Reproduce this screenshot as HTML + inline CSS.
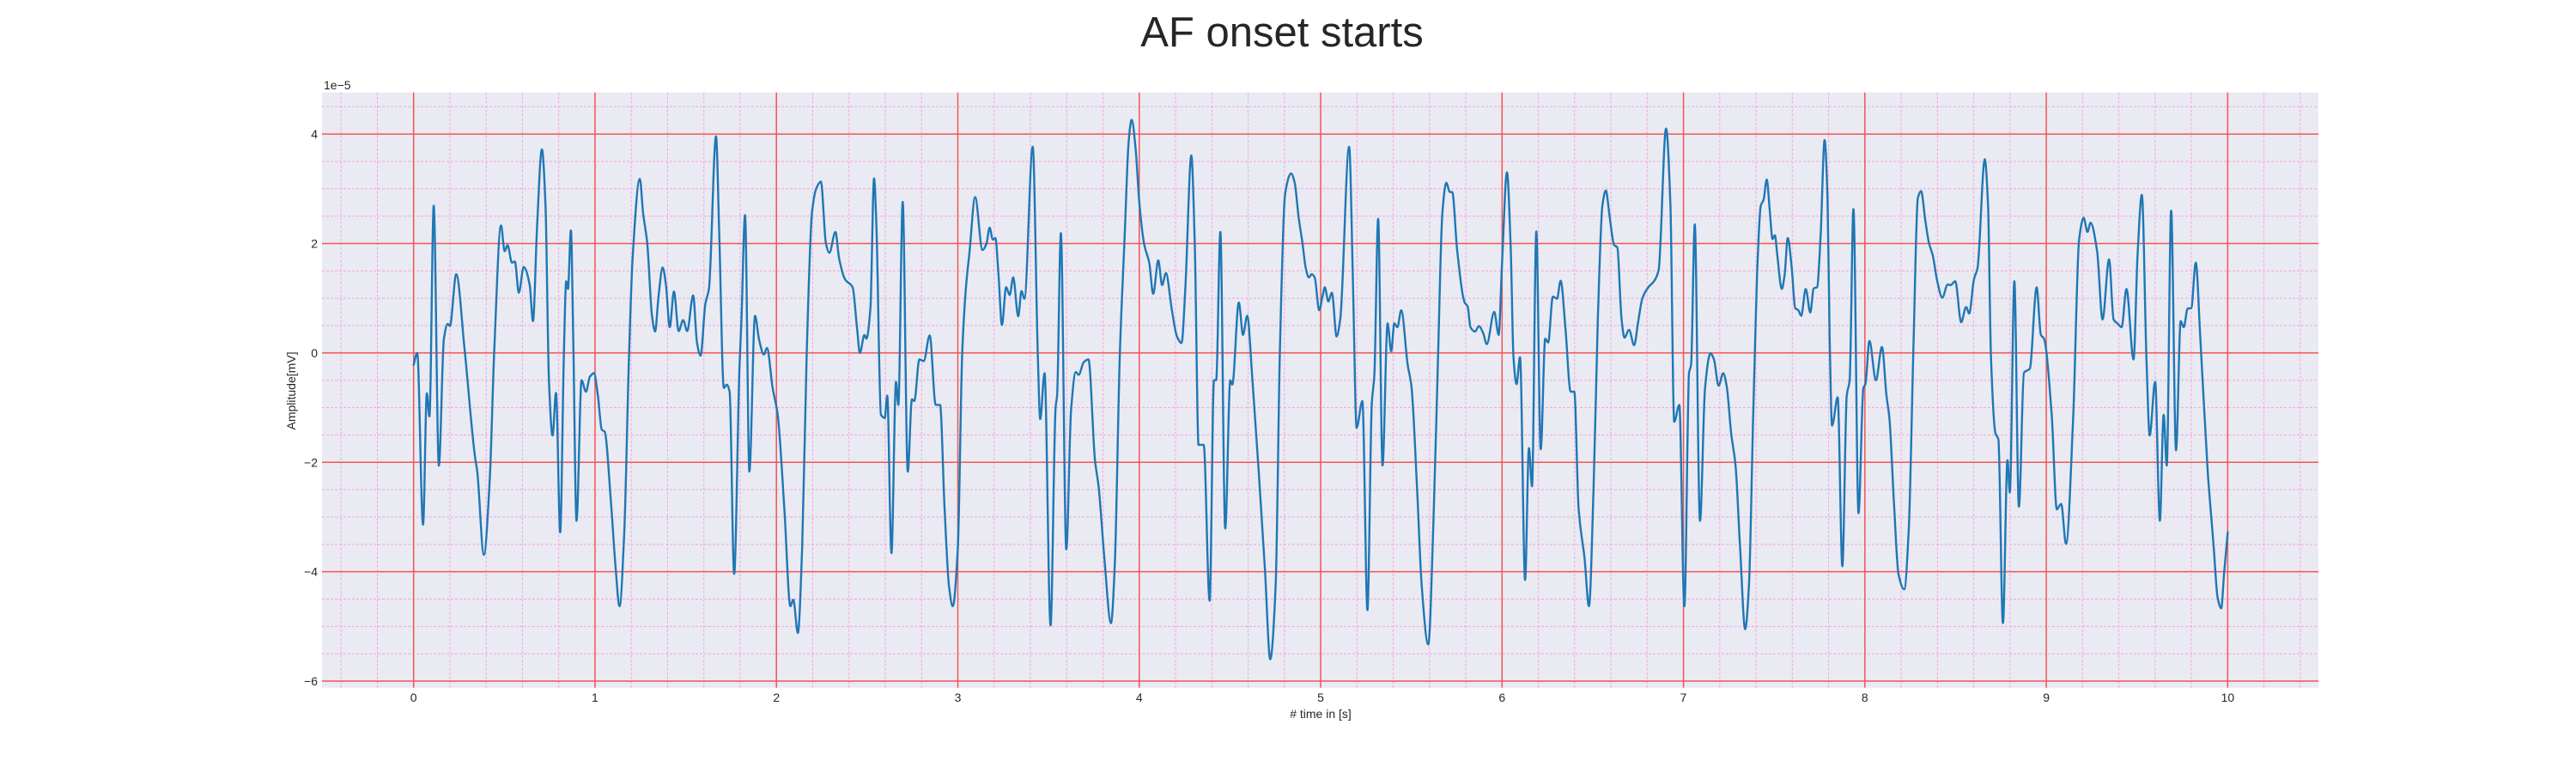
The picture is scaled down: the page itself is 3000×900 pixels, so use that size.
<!DOCTYPE html>
<html><head><meta charset="utf-8"><style>
html,body{margin:0;padding:0;background:#fff;}
svg{display:block;font-family:"Liberation Sans",sans-serif;}
</style></head><body>
<svg id="chart" width="3000" height="900" viewBox="0 0 3000 900" xmlns="http://www.w3.org/2000/svg">
<rect x="0" y="0" width="3000" height="900" fill="#ffffff"/>
<text x="1493" y="54" font-size="49" text-anchor="middle" fill="#262626">AF onset starts</text>
<rect id="plotbg" x="375" y="107.7" width="2325" height="693" fill="#EAEAF2"/>
<g id="grid"></g>
<g id="ticks"></g>
<g id="series"></g>
<text x="377" y="104" font-size="14" fill="#262626">1e−5</text>
<text x="1538" y="836" font-size="14" text-anchor="middle" fill="#262626"># time in [s]</text>
<text x="0" y="0" font-size="14" text-anchor="middle" fill="#262626" transform="translate(344,455) rotate(-90)">Amplitude[mV]</text>
</svg>
<script>
const xTicks = [0,1,2,3,4,5,6,7,8,9,10];
const yTicks = [-6,-4,-2,0,2,4];
const xTickLabels = ["0","1","2","3","4","5","6","7","8","9","10"];
const yTickLabels = ["−6","−4","−2","0","2","4"];
const times = [0,0.02,0.052,0.073,0.087,0.111,0.139,0.167,0.188,0.2,0.235,0.281,0.338,0.351,0.387,0.42,0.444,0.482,0.502,0.518,0.542,0.558,0.58,0.607,0.64,0.658,0.681,0.707,0.727,0.746,0.766,0.785,0.808,0.828,0.841,0.851,0.867,0.88,0.898,0.926,0.95,0.971,0.994,1.016,1.037,1.053,1.089,1.113,1.135,1.162,1.187,1.207,1.247,1.265,1.288,1.314,1.331,1.35,1.373,1.391,1.412,1.435,1.461,1.486,1.508,1.541,1.562,1.582,1.608,1.628,1.667,1.685,1.71,1.726,1.742,1.767,1.796,1.807,1.827,1.851,1.882,1.905,1.931,1.948,1.979,2.007,2.044,2.077,2.093,2.118,2.142,2.167,2.196,2.219,2.245,2.273,2.292,2.325,2.346,2.379,2.42,2.444,2.46,2.485,2.496,2.518,2.538,2.551,2.576,2.597,2.611,2.634,2.659,2.672,2.696,2.724,2.747,2.76,2.788,2.812,2.845,2.878,2.902,2.927,2.951,2.972,3.0,3.024,3.044,3.065,3.095,3.136,3.158,3.175,3.193,3.207,3.224,3.243,3.266,3.286,3.305,3.333,3.351,3.367,3.413,3.441,3.454,3.478,3.511,3.539,3.547,3.568,3.598,3.624,3.65,3.666,3.694,3.72,3.756,3.776,3.808,3.844,3.865,3.893,3.919,3.942,3.958,3.98,4.0,4.028,4.055,4.077,4.105,4.126,4.147,4.18,4.208,4.233,4.254,4.287,4.306,4.327,4.355,4.388,4.412,4.424,4.447,4.474,4.502,4.513,4.549,4.572,4.595,4.624,4.66,4.693,4.722,4.752,4.775,4.804,4.837,4.857,4.878,4.9,4.918,4.935,4.951,4.967,4.992,5.01,5.023,5.042,5.062,5.088,5.108,5.157,5.178,5.198,5.23,5.258,5.282,5.296,5.317,5.341,5.369,5.389,5.406,5.423,5.444,5.48,5.5,5.532,5.557,5.593,5.622,5.647,5.671,5.693,5.712,5.725,5.753,5.794,5.81,5.826,5.851,5.872,5.895,5.916,5.957,5.981,6.0,6.027,6.047,6.063,6.08,6.099,6.127,6.148,6.165,6.189,6.213,6.238,6.254,6.28,6.303,6.323,6.349,6.378,6.398,6.422,6.455,6.479,6.504,6.528,6.553,6.572,6.593,6.618,6.635,6.659,6.675,6.7,6.728,6.749,6.773,6.806,6.838,6.863,6.904,6.928,6.949,6.977,7.005,7.031,7.042,7.062,7.091,7.119,7.149,7.168,7.194,7.219,7.238,7.263,7.287,7.312,7.34,7.361,7.385,7.41,7.426,7.442,7.459,7.475,7.491,7.504,7.517,7.542,7.558,7.575,7.596,7.616,7.633,7.649,7.674,7.699,7.718,7.736,7.756,7.778,7.794,7.806,7.819,7.85,7.876,7.9,7.916,7.937,7.965,7.992,8.003,8.025,8.061,8.094,8.119,8.135,8.16,8.185,8.217,8.242,8.267,8.292,8.31,8.333,8.354,8.374,8.399,8.427,8.456,8.473,8.498,8.531,8.558,8.575,8.601,8.621,8.661,8.679,8.695,8.72,8.736,8.761,8.786,8.799,8.824,8.849,8.877,8.909,8.947,8.97,8.987,9.03,9.058,9.082,9.109,9.148,9.181,9.206,9.227,9.244,9.28,9.31,9.346,9.371,9.395,9.415,9.442,9.481,9.503,9.527,9.552,9.57,9.6,9.626,9.647,9.664,9.688,9.715,9.741,9.758,9.779,9.799,9.824,9.848,9.89,9.923,9.944,9.964,9.98,10.0];
const amplitudes = [-0.22,0,-3.14,-0.74,-1.16,2.69,-2.06,0.26,0.53,0.49,1.44,0.06,-1.89,-2.17,-3.69,-2.3,0,2.33,1.86,1.97,1.65,1.67,1.1,1.57,1.24,0.58,2.35,3.72,2.69,-0.5,-1.51,-0.73,-3.28,-0.08,1.31,1.17,2.24,0.26,-3.07,-0.5,-0.71,-0.44,-0.37,-0.78,-1.4,-1.44,-2.79,-3.9,-4.63,-3.21,-0.08,1.72,3.18,2.56,2.0,0.68,0.39,1.03,1.56,1.24,0.47,1.12,0.4,0.6,0.4,1.05,0.19,-0.05,0.89,1.17,3.96,2.14,-0.64,-0.58,-0.71,-4.04,-0.29,0.61,2.52,-2.17,0.68,0.23,-0.03,0.09,-0.64,-1.13,-2.86,-4.63,-4.51,-5.12,-3.56,0,2.56,3.0,3.13,2.0,1.83,2.21,1.72,1.34,1.2,0.47,0,0.33,0.26,0.82,3.19,2.35,-1.13,-1.19,-0.78,-3.66,-0.53,-0.95,2.76,-2.17,-0.85,-0.88,-0.12,-0.15,0.32,-0.95,-0.95,-2.86,-4.25,-4.63,-3.56,0,1.17,1.86,2.85,1.88,2.0,2.29,2.07,2.1,1.44,0.51,1.2,1.06,1.38,0.67,1.13,0.99,3.77,-0.08,-1.21,-0.37,-4.98,-0.99,-0.78,2.19,-3.59,-1.06,-0.35,-0.4,-0.17,-0.12,-1.96,-2.44,-3.76,-4.94,-3.9,0,2.07,3.88,4.26,3.74,2.76,1.97,1.65,1.08,1.69,1.24,1.46,0.78,0.3,0.18,1.17,3.61,2.0,-1.68,-1.68,-4.53,-0.5,-0.5,2.21,-3.21,-0.5,-0.58,0.92,0.33,0.68,-0.5,-2.24,-3.97,-5.6,-4.25,0,2.9,3.28,3.11,2.49,2.0,1.55,1.38,1.44,1.38,0.78,1.03,1.2,0.94,1.1,0.3,0.61,3.77,1.31,-1.37,-0.88,-4.7,-0.92,-0.4,2.45,-2.06,0.54,0.03,0.54,0.47,0.78,-0.22,-0.6,-2.51,-4.25,-5.33,-3.07,-0.08,2.56,3.11,2.94,2.94,1.86,0.92,0.85,0.47,0.39,0.49,0.37,0.16,0.75,0.33,1.65,3.3,2.0,-0.08,-0.57,-0.08,-4.15,-1.74,-2.44,2.22,-1.76,0.26,0.19,1.03,0.99,1.32,0.47,-0.71,-0.71,-2.86,-3.76,-4.63,-2.51,0.61,2.69,2.97,2.49,1.97,1.93,0.61,0.28,0.42,0.14,0.54,0.99,1.2,1.31,1.51,4.1,2.69,-1.26,-0.95,-4.63,-0.36,-0.22,2.35,-3.07,-0.64,-0.01,-0.12,-0.6,-0.37,-0.6,-1.47,-2.06,-3.56,-5.05,-4.25,-1.06,1.79,2.69,2.8,3.17,2.63,2.08,2.15,1.79,1.17,1.44,2.1,1.58,0.82,0.78,0.68,1.17,0.74,1.18,1.2,2.14,3.89,2.83,0.26,-1.33,-0.81,-3.9,-0.78,-0.5,2.63,-2.93,-0.64,-0.57,0.22,-0.5,0.11,-0.78,-1.19,-2.72,-4.04,-4.32,-3.21,0,2.83,2.96,2.42,2.0,1.79,1.31,1.01,1.25,1.24,1.31,0.56,0.84,0.72,1.34,1.55,3.54,2.69,-0.08,-1.47,-1.58,-4.94,-1.96,-2.55,1.31,-2.81,-0.36,-0.29,1.2,0.33,0.26,-1.13,-2.86,-2.76,-3.49,-1.19,2.07,2.47,2.21,2.38,1.86,0.61,1.71,0.61,0.53,0.47,1.17,-0.12,1.79,2.89,-0.08,-1.51,-0.53,-3.07,-1.13,-2.06,2.6,-1.78,0.58,0.47,0.81,0.82,1.65,0.33,-2.17,-3.56,-4.46,-4.67,-4.04,-3.28];

const NS = "http://www.w3.org/2000/svg";
const X0 = 375, X1 = 2700, Y0 = 107.7, Y1 = 800.7;
const xMin = -0.505, xMax = 10.5, yMin = -6.12, yMax = 4.76;
function xs(t){ return X0 + (t - xMin) / (xMax - xMin) * (X1 - X0); }
function ys(v){ return Y1 - (v - yMin) / (yMax - yMin) * (Y1 - Y0); }
function mk(tag, attrs, parent){ const e = document.createElementNS(NS, tag); for (const k in attrs) e.setAttribute(k, attrs[k]); parent.appendChild(e); return e; }

const grid = document.getElementById('grid');
for (let i = -2; i <= 52; i++) {
  const t = i * 0.2;
  if (t < xMin || t > xMax || Math.abs(t - Math.round(t)) < 1e-6) continue;
  const l = mk('line', {x1: xs(t), x2: xs(t), y1: Y0, y2: Y1, stroke: '#f0a6e0', 'stroke-width': 1, 'stroke-dasharray': '3,2'}, grid);
  
  
}
for (let i = -12; i <= 9; i++) {
  const v = i * 0.5;
  if (v < yMin || v > yMax || i % 4 === 0) continue;
  const l = mk('line', {x1: X0, x2: X1, y1: ys(v), y2: ys(v), stroke: '#f0a6e0', 'stroke-width': 1, 'stroke-dasharray': '3,2'}, grid);
  
  
}
const ticks = document.getElementById('ticks');
xTicks.forEach((t, i) => {
  const l = mk('line', {x1: xs(t), x2: xs(t), y1: Y0, y2: Y1, stroke: '#f25555', 'stroke-width': 1.5}, grid);
  
  
  const tx = mk('text', {x: xs(t), y: 817, 'font-size': 14, 'text-anchor': 'middle', fill: '#262626'}, ticks);
  tx.textContent = xTickLabels[i];
  
  
});
yTicks.forEach((v, i) => {
  const l = mk('line', {x1: X0, x2: X1, y1: ys(v), y2: ys(v), stroke: '#f25555', 'stroke-width': 1.5}, grid);
  
  
  const tx = mk('text', {x: 370, y: ys(v) + 5, 'font-size': 14, 'text-anchor': 'end', fill: '#262626'}, ticks);
  tx.textContent = yTickLabels[i];
  
  
});

// monotone cubic smoothing through data points
function monotonePath(px, py){
  const n = px.length;
  const d = [], m = new Array(n);
  for (let i = 0; i < n - 1; i++) d.push((py[i+1] - py[i]) / (px[i+1] - px[i]));
  m[0] = d[0]; m[n-1] = d[n-2];
  for (let i = 1; i < n - 1; i++) {
    if (d[i-1] * d[i] <= 0) m[i] = 0;
    else { const h0 = px[i]-px[i-1], h1 = px[i+1]-px[i]; const w1 = 2*h1+h0, w2 = h1+2*h0; m[i] = (w1+w2)/(w1/d[i-1]+w2/d[i]); }
  }
  let s = 'M' + px[0].toFixed(1) + ',' + py[0].toFixed(1);
  for (let i = 0; i < n - 1; i++) {
    const h = (px[i+1] - px[i]) / 3;
    s += ' C' + (px[i]+h).toFixed(1) + ',' + (py[i]+m[i]*h).toFixed(1) + ' ' + (px[i+1]-h).toFixed(1) + ',' + (py[i+1]-m[i+1]*h).toFixed(1) + ' ' + px[i+1].toFixed(1) + ',' + py[i+1].toFixed(1);
  }
  return s;
}
const series = document.getElementById('series');
const pxs = times.map(xs);
const pys = amplitudes.map(ys);
const line = mk('path', {d: monotonePath(pxs, pys), fill: 'none', stroke: '#1f77b4', 'stroke-width': 2.4, 'stroke-linejoin': 'round', 'stroke-linecap': 'round'}, series);


</script>
</body></html>
